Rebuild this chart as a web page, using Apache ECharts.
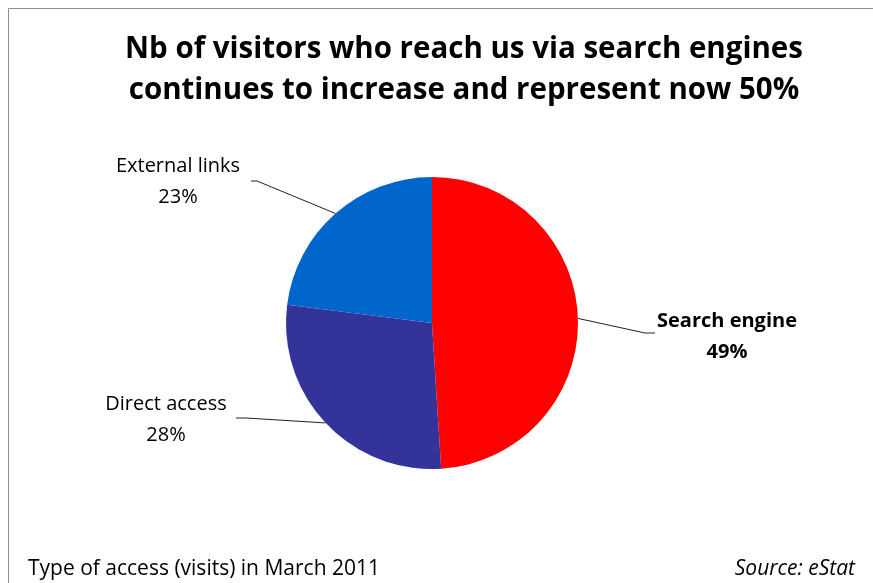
<!DOCTYPE html>
<html>
<head>
<meta charset="utf-8">
<script src="https://cdn.jsdelivr.net/npm/echarts@6/dist/echarts.min.js"></script>
<style>
  html, body { margin: 0; padding: 0; background: #fff; }
  #chart { width: 873px; height: 583px; }
</style>
</head>
<body>
<div id="chart"></div>
<script>
// Access types and their share of visits (%)
const categories = ['Search engine', 'Direct access', 'External links'];
const shares = [49, 28, 23];
const sliceColors = ['#FF0000', '#333399', '#0066CC'];

// Where each slice's label sits, and the elbow of its leader line
const labelSpots = [
  { x: 727, y: 337, elbow: [645, 333], end: [655, 333], bold: true },
  { x: 166, y: 420, elbow: [246, 418], end: [236, 418], bold: false },
  { x: 178, y: 182, elbow: [257, 181], end: [251, 181], bold: false }
];

const FONT = '"Open Sans", Lato, sans-serif';

const chart = echarts.init(document.getElementById('chart'), null, { renderer: 'canvas' });

chart.setOption({
  backgroundColor: '#ffffff',
  animation: false,
  title: [
    {
      text: 'Nb of visitors who reach us via search engines\ncontinues to increase and represent now 50%',
      left: 459,
      top: 24,
      textAlign: 'center',
      textStyle: { fontFamily: FONT, fontSize: 29.5, fontWeight: 'bold', color: '#000', lineHeight: 41 }
    },
    {
      text: 'Type of access (visits) in March 2011',
      left: 23,
      top: 554,
      textStyle: { fontFamily: FONT, fontSize: 21, fontWeight: 'normal', color: '#000' }
    },
    {
      text: 'Source: eStat',
      right: 13,
      top: 554,
      textStyle: { fontFamily: FONT, fontSize: 21, fontWeight: 'normal', fontStyle: 'italic', color: '#000' }
    }
  ],
  graphic: [
    {
      type: 'polyline',
      shape: { points: [[8.5, 583], [8.5, 8.5], [873, 8.5]] },
      style: { stroke: '#8c8c8c', lineWidth: 1, fill: null },
      silent: true
    }
  ],
  series: [
    {
      type: 'pie',
      center: [432, 323],
      radius: 146,
      startAngle: 90,
      clockwise: true,
      avoidLabelOverlap: false,
      itemStyle: { borderWidth: 0 },
      label: {
        show: true,
        position: 'outside',
        formatter: '{b}\n{d}%',
        fontFamily: FONT,
        fontSize: 20,
        lineHeight: 31,
        color: '#000',
        align: 'center'
      },
      labelLine: {
        show: true,
        length: 20,
        length2: 10,
        lineStyle: { color: '#222', width: 1 }
      },
      labelLayout: function (params) {
        const spot = labelSpots[params.dataIndex];
        const pts = params.labelLinePoints;
        const start = pts && pts.length ? pts[0] : spot.elbow;
        return {
          x: spot.x,
          y: spot.y,
          align: 'center',
          verticalAlign: 'middle',
          labelLinePoints: [start, spot.elbow, spot.end]
        };
      },
      emphasis: { disabled: true },
      data: categories.map(function (name, i) {
        return {
          name: name,
          value: shares[i],
          itemStyle: { color: sliceColors[i] },
          label: { fontWeight: labelSpots[i].bold ? 'bold' : 'normal' }
        };
      })
    }
  ]
});
</script>
</body>
</html>
